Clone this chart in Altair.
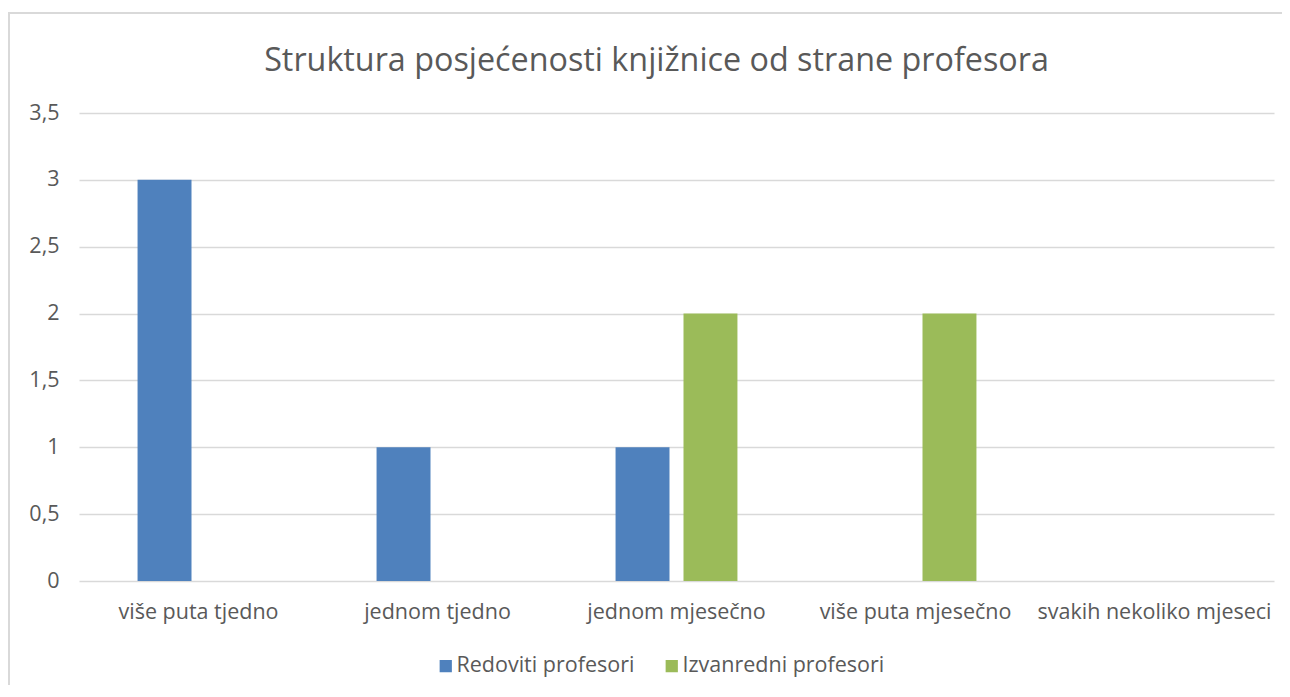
import altair as alt
import pandas as pd

categories = ["više puta tjedno", "jednom tjedno", "jednom mjesečno", "više puta mjesečno", "svakih nekoliko mjeseci"]
series_names = ["Redoviti profesori", "Izvanredni profesori"]
redoviti = [3, 1, 1, 0, 0]
izvanredni = [0, 0, 2, 2, 0]
colors = ["#4F81BD", "#9BBB59"]
title_text = "Struktura posjećenosti knjižnice od strane profesora"

rows = []
for i, c in enumerate(categories):
    rows.append({"kat": c, "serija": series_names[0], "vrijednost": redoviti[i]})
    rows.append({"kat": c, "serija": series_names[1], "vrijednost": izvanredni[i]})
df = pd.DataFrame(rows)

FONT = "Open Sans"
GRAY = "#595959"
FS = 21.5

bars = alt.Chart(df).mark_bar().encode(
    x=alt.X("kat:N", sort=categories, title=None,
            scale=alt.Scale(paddingInner=0.49, paddingOuter=0.245),
            axis=alt.Axis(labelAngle=0, ticks=False, domain=False, labelPadding=20,
                          labelFontSize=FS, labelColor=GRAY, labelFont=FONT, labelLimit=0)),
    xOffset=alt.XOffset("serija:N", sort=series_names,
                        scale=alt.Scale(paddingInner=0.206, paddingOuter=0)),
    y=alt.Y("vrijednost:Q", title=None,
            scale=alt.Scale(domain=[0, 3.5], nice=False),
            axis=alt.Axis(values=[0, 0.5, 1, 1.5, 2, 2.5, 3, 3.5], ticks=False, domain=False,
                          labelPadding=20, labelFontSize=FS, labelColor=GRAY, labelFont=FONT,
                          gridColor="#d9d9d9", gridWidth=1.3,
                          labelExpr="replace(toString(datum.value), '.', ',')")),
    color=alt.Color("serija:N", sort=series_names,
                    scale=alt.Scale(domain=series_names, range=colors),
                    legend=alt.Legend(title=None, orient="none", direction="horizontal",
                                      legendX=356, legendY=542, symbolType="square",
                                      symbolSize=150, symbolStrokeWidth=0,
                                      labelFontSize=FS, labelColor=GRAY, labelFont=FONT,
                                      labelLimit=0, columnPadding=26, labelOffset=0)),
)

frame = alt.Chart(pd.DataFrame({"a": [0]})).mark_rect(
    fill=None, stroke="#d9d9d9", strokeWidth=2
).encode(x=alt.value(-70), x2=alt.value(1300), y=alt.value(-100), y2=alt.value(700))

chart = alt.layer(frame, bars).properties(
    width=1195, height=468,
    title=alt.TitleParams(title_text, fontSize=32.3, font=FONT, fontWeight="normal",
                          color=GRAY, anchor="middle", frame="group", dx=-20, offset=-65),
    padding={"left": 71, "top": 105, "right": 8, "bottom": 104},
    autosize=alt.AutoSizeParams(type="none"),
).configure_view(stroke=None)

chart.save("out.html", embed_options={"renderer": "svg", "actions": False})
